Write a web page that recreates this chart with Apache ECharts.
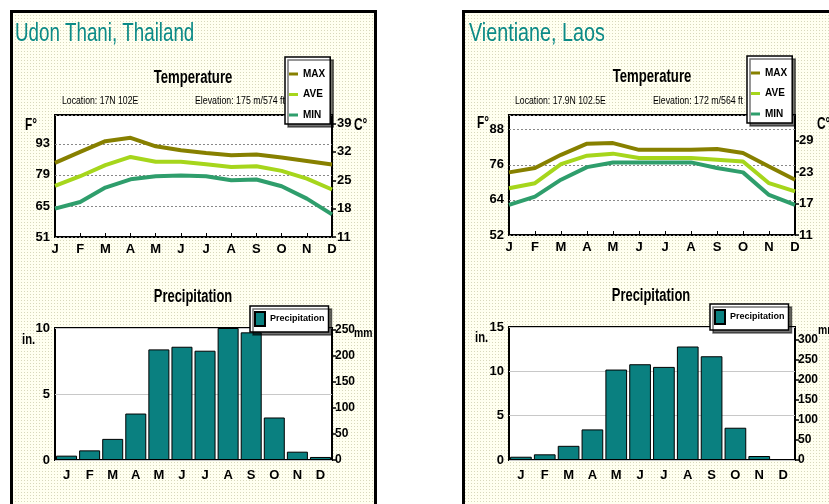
<!DOCTYPE html>
<html><head><meta charset="utf-8">
<script src="https://cdn.jsdelivr.net/npm/echarts@6/dist/echarts.min.js"></script>
<style>html,body{margin:0;padding:0;background:#fff}#c{width:829px;height:504px}</style>
</head><body><div id="c"></div>
<script>
// ---- data ----
const months = ['J','F','M','A','M','J','J','A','S','O','N','D'];
const udonMax = [84.4, 89.4, 94.2, 95.7, 91.9, 90.1, 88.9, 87.9, 88.2, 86.8, 85.3, 83.7];
const udonAve = [74.0, 78.4, 83.4, 87.1, 84.9, 84.9, 83.8, 82.6, 82.9, 80.8, 77.3, 72.4];
const udonMin = [63.8, 66.8, 73.3, 77.0, 78.4, 78.7, 78.4, 76.6, 76.9, 73.9, 68.3, 61.2];
const udonPrecipIn = [0.33, 0.73, 1.6, 3.52, 8.38, 8.58, 8.28, 10.0, 9.67, 3.22, 0.63, 0.23];
const vienMax = [73.4, 74.9, 79.4, 83.2, 83.4, 81.1, 81.1, 81.1, 81.4, 80.0, 75.4, 70.9];
const vienAve = [68.0, 69.7, 76.2, 79.1, 79.8, 78.3, 78.3, 78.3, 77.7, 77.1, 69.7, 66.9];
const vienMin = [62.3, 65.1, 70.9, 75.2, 76.8, 76.8, 76.8, 76.8, 74.9, 73.4, 65.7, 62.3];
const vienPrecipIn = [0.37, 0.64, 1.6, 3.45, 10.2, 10.8, 10.5, 12.8, 11.7, 3.64, 0.45, 0.11];
const udonTitle = 'Udon Thani, Thailand';
const vienTitle = 'Vientiane, Laos';
const udonLoc = 'Location: 17N 102E', udonElev = 'Elevation: 175 m/574 ft';
const vienLoc = 'Location: 17.9N 102.5E', vienElev = 'Elevation: 172 m/564 ft';

const FONT = '"Liberation Sans",Arial,sans-serif';
const C_MAX = '#878000', C_AVE = '#a6d61c', C_MIN = '#2f9e6c', C_BAR = '#0a8080', C_TITLE = '#0b8a86';

// dotted cream pattern
const pc = document.createElement('canvas'); pc.width = 3; pc.height = 3;
const g = pc.getContext('2d'); g.fillStyle = '#fffff0'; g.fillRect(0,0,3,3);
g.fillStyle = '#d8d8bc'; g.fillRect(0,0,1,1);

const chart = echarts.init(document.getElementById('c'), null, {renderer:'canvas'});

const lab = (extra) => Object.assign({fontFamily: FONT, fontWeight:'bold', fontSize:13, color:'#000'}, extra||{});

function tempX(gi){ return {type:'category', gridIndex:gi, data:months, boundaryGap:false,
  axisLine:{show:false}, axisTick:{show:true, inside:true, length:4, lineStyle:{color:'#000'}},
  axisLabel: lab({margin:6, fontSize:13, interval:0}), splitLine:{show:false}}; }
function precX(gi){ return {type:'category', gridIndex:gi, data:months, boundaryGap:true,
  axisLine:{show:false}, axisTick:{show:false},
  axisLabel: lab({margin:9, fontSize:13, interval:0}), splitLine:{show:false}}; }
function leftY(gi,min,max,iv,split,showMax){ return {type:'value', gridIndex:gi, position:'left', min:min, max:max, interval:iv,
  axisLine:{show:false}, axisTick:{show:false},
  axisLabel: lab({margin:5, showMaxLabel:showMax}), splitLine:split}; }
function rightY(gi,min,max,iv,margin,size){ return {type:'value', gridIndex:gi, position:'right', min:min, max:max, interval:iv,
  axisLine:{show:false}, axisTick:{show:true, length:4, lineStyle:{color:'#000', width:1.5}},
  axisLabel: lab({margin:margin, showMaxLabel:false, fontSize:size}), splitLine:{show:false}}; }

const dotted = {show:true, lineStyle:{color:'#888', type:[2,2], width:1}};
const lightSolid = {show:true, lineStyle:{color:'#c8c8c8', type:'solid', width:1}};

function lineS(name, data, color, xi, yi){
  return {type:'line', name:name, data:data, xAxisIndex:xi, yAxisIndex:yi, symbol:'none',
    lineStyle:{color:color, width:4}, itemStyle:{color:color}, z:3};
}
function barS(data, xi, yi){
  return {type:'bar', name:'Precipitation', data:data, xAxisIndex:xi, yAxisIndex:yi,
    barCategoryGap:'9%', itemStyle:{color:C_BAR, borderColor:'#000', borderWidth:1}};
}

const gridBase = {show:true, backgroundColor:'#fff', borderColor:'#000', borderWidth:2, containLabel:false};

function txt(x,y,text,size,sx,style){
  return {type:'text', x:x, y:y, z:100, scaleX:sx,
    style: Object.assign({text:text, fontFamily:FONT, fontSize:size, fill:'#000', verticalAlign:'middle', align:'left'}, style||{})};
}

const legendBase = {orient:'vertical', backgroundColor:'#fff', borderColor:'#000', borderWidth:1.5,
  shadowColor:'rgba(0,0,0,0.55)', shadowOffsetX:3, shadowOffsetY:3, shadowBlur:0,
  textStyle:{fontFamily:FONT, fontWeight:'bold', fontSize:10, color:'#000'}, selectedMode:false};
const precLegText = {fontFamily:FONT, fontWeight:'bold', fontSize:9, color:'#000'};

const B = {fontWeight:'bold'};
const BC = {fontWeight:'bold', align:'center'};

const option = {
  animation:false,
  backgroundColor:'#fff',
  grid:[
    Object.assign({left:55, top:115, width:277, height:122}, gridBase),
    Object.assign({left:55, top:328, width:277, height:132}, gridBase),
    Object.assign({left:509, top:115, width:286, height:120}, gridBase),
    Object.assign({left:509, top:327, width:286, height:133}, gridBase)
  ],
  xAxis:[tempX(0), precX(1), tempX(2), precX(3)],
  yAxis:[
    leftY(0, 51, 106, 14, dotted, false),
    rightY(0, 11, 41.1, 7, 5, 13),
    leftY(1, 0, 10, 5, lightSolid, true),
    rightY(1, 0, 253, 50, 3, 12),
    leftY(2, 52, 93, 12, dotted, false),
    rightY(2, 11, 33.9, 6, 4, 13),
    leftY(3, 0, 15, 5, lightSolid, true),
    rightY(3, 0, 333, 50, 3, 12)
  ],
  legend:[
    Object.assign({left:285, top:57, padding:[12,5,4,4], itemGap:10.5, itemWidth:9, itemHeight:3, icon:'rect',
      data:['MAX','AVE','MIN']}, legendBase),
    Object.assign({left:747, top:56, padding:[12,5,4,4], itemGap:10.5, itemWidth:9, itemHeight:3, icon:'rect',
      data:['MAX','AVE','MIN']}, legendBase),
    Object.assign({left:250, top:306, padding:[5,4,5,4], itemWidth:10, itemHeight:14, icon:'rect', itemGap:4,
      data:['Precipitation']}, legendBase, {textStyle:precLegText}),
    Object.assign({left:710, top:304, padding:[5,4,5,4], itemWidth:10, itemHeight:14, icon:'rect', itemGap:4,
      data:['Precipitation']}, legendBase, {textStyle:precLegText})
  ],
  series:[
    lineS('MAX', udonMax, C_MAX, 0, 0),
    lineS('AVE', udonAve, C_AVE, 0, 0),
    lineS('MIN', udonMin, C_MIN, 0, 0),
    barS(udonPrecipIn, 1, 2),
    lineS('MAX', vienMax, C_MAX, 2, 4),
    lineS('AVE', vienAve, C_AVE, 2, 4),
    lineS('MIN', vienMin, C_MIN, 2, 4),
    barS(vienPrecipIn, 3, 6)
  ],
  graphic:[
    {type:'rect', z:-10, shape:{x:11.5, y:11.5, width:364, height:540}, style:{fill:{image:pc, repeat:'repeat'}, stroke:'#000', lineWidth:3}},
    {type:'rect', z:-10, shape:{x:463.5, y:11.5, width:420, height:540}, style:{fill:{image:pc, repeat:'repeat'}, stroke:'#000', lineWidth:3}},
    txt(15, 34, udonTitle, 25, 0.75, {fill:C_TITLE}),
    txt(469, 34, vienTitle, 25, 0.79, {fill:C_TITLE}),
    txt(193, 78, 'Temperature', 18, 0.73, BC),
    txt(193, 297, 'Precipitation', 18, 0.72, BC),
    txt(652, 77, 'Temperature', 18, 0.73, BC),
    txt(651, 296, 'Precipitation', 18, 0.72, BC),
    txt(62, 101, udonLoc, 11, 0.79),
    txt(195, 101, udonElev, 11, 0.8),
    txt(515, 101, vienLoc, 11, 0.79),
    txt(653, 101, vienElev, 11, 0.8),
    txt(25, 125, 'F°', 17, 0.7, B),
    txt(477, 123, 'F°', 17, 0.7, B),
    txt(354, 125, 'C°', 17, 0.7, B),
    txt(817, 124, 'C°', 17, 0.7, B),
    txt(22, 340, 'in.', 15, 0.75, B),
    txt(475, 338, 'in.', 15, 0.75, B),
    txt(354, 333, 'mm', 13, 0.8, B),
    txt(818, 330, 'mm', 13, 0.8, B)
  ]
};
chart.setOption(option);
</script></body></html>
